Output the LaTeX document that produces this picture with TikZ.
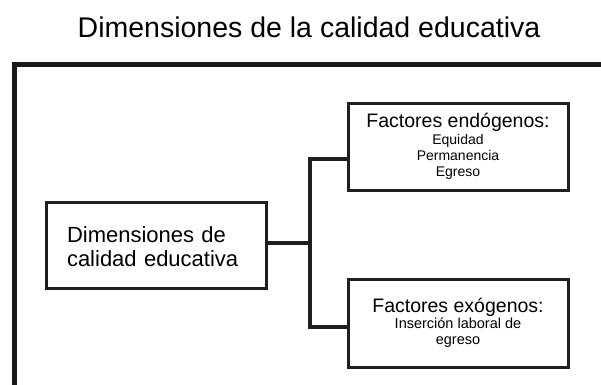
\documentclass[tikz,border=0pt]{standalone}
\usepackage{fontspec}
\setmainfont{Liberation Sans}
\usepackage{tikz}
\usetikzlibrary{positioning,calc}

\begin{document}
\begin{tikzpicture}[x=1pt,y=-1pt,
    box/.style={draw=black!88, line width=3pt, fill=white, minimum width=220pt, align=center},
    link/.style={draw=black!88, line width=4.2pt, line join=miter}]
\useasboundingbox (0,0) rectangle (601,384);
\clip (0,0) rectangle (601,384);

% Title
\node[anchor=base, font=\fontsize{28.5}{32}\selectfont] (title) at (309,37) {Dimensiones de la calidad educativa};

% Frame
\draw[black!90, line width=4.5pt] (14.5,395) -- (14.5,64.5) -- (615,64.5);

% Boxes
\node[box, minimum height=86pt, inner xsep=21pt, text width=178pt, align=left, text depth=21pt,
      font=\fontsize{22}{24}\selectfont] (dim) at (156,245)
      {Dimensiones de\\calidad educativa};
\node[box, minimum height=87pt, font=\fontsize{14}{16.3}\selectfont] (endo) at (458,146.5)
      {{\fontsize{19.5}{17.5}\selectfont Factores endógenos:}\\Equidad\\Permanencia\\Egreso};
\node[box, minimum height=88pt, font=\fontsize{14.5}{16}\selectfont] (exo) at (458,323)
      {{\fontsize{19.5}{17}\selectfont Factores exógenos:}\\Inserción laboral de\\egreso};

% Connectors
\coordinate (spine) at (310,243);
\draw[link, line width=3.6pt] (dim.east |- spine) -- (spine);
\draw[link] ([yshift=-12.5pt]endo.west) -| (spine) |- ([yshift=-4pt]exo.west);
\end{tikzpicture}
\end{document}
